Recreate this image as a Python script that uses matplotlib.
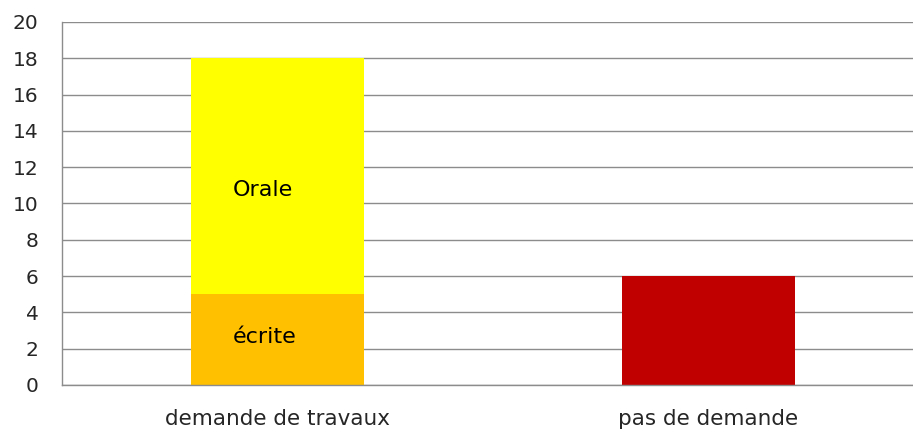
import matplotlib.pyplot as plt

plt.rcParams['font.family'] = ['DejaVu Sans']

categories = ["demande de travaux", "pas de demande"]
ecrite = [5, 0]
orale = [13, 0]
pas_demande = [0, 6]

# positions des étiquettes dans la barre (coordonnées données)
labels = [("Orale", -0.035, 10.75), ("écrite", -0.03, 2.65)]

fig = plt.figure(figsize=(9.13, 4.33), dpi=100)
ax = fig.add_axes([62 / 913, 48 / 433, 862 / 913, 363 / 433])

x = range(len(categories))
ax.bar(x, ecrite, width=0.4, color="#FFC000", zorder=2)
ax.bar(x, orale, width=0.4, bottom=ecrite, color="#FFFF00", zorder=2)
ax.bar(x, pas_demande, width=0.4, color="#C00000", zorder=2)

for txt, lx, ly in labels:
    ax.text(lx, ly, txt, ha="center", va="center", fontsize=16, color="black", zorder=3)

ax.set_xlim(-0.5, 1.5)
ax.set_ylim(0, 20)
ax.set_yticks(range(0, 21, 2))
ax.set_xticks(list(x))
ax.set_xticklabels(categories)
ax.tick_params(axis="both", length=0, labelsize=14.5, colors="#262626")
ax.tick_params(axis="x", labelsize=15.5, pad=17.5)
ax.tick_params(axis="y", pad=17)
ax.grid(axis="y", color="#8C8C8C", linewidth=1, zorder=1)

for side in ["top", "right"]:
    ax.spines[side].set_visible(False)
for side in ["left", "bottom"]:
    ax.spines[side].set_color("#8C8C8C")
    ax.spines[side].set_linewidth(1)

fig.savefig("out.png", dpi=100)
